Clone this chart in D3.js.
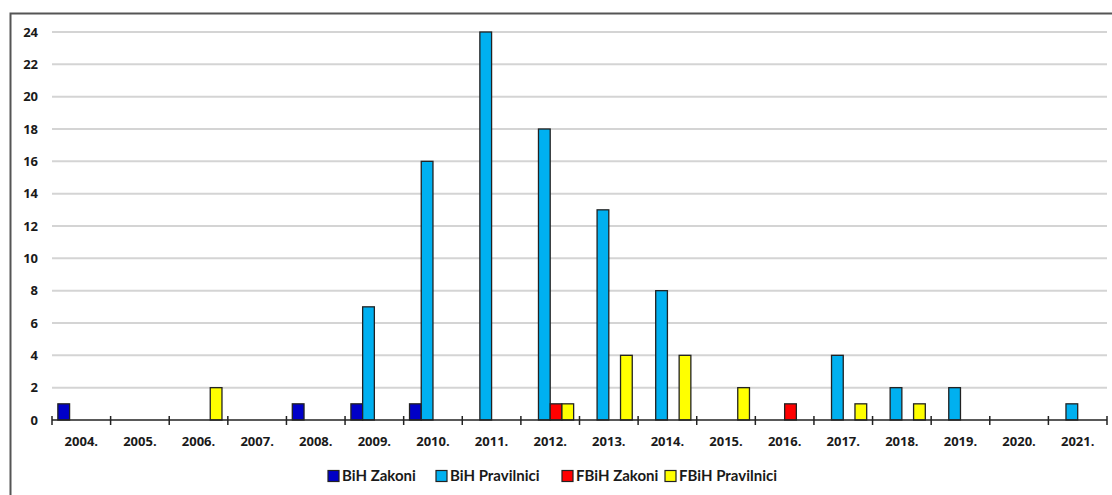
<!DOCTYPE html>
<html>
<head>
<meta charset="utf-8">
<script src="https://cdn.jsdelivr.net/npm/d3@7/dist/d3.min.js"></script>
<style>
  html, body { margin: 0; padding: 0; background: #fff; }
  svg { display: block; font-family: "Open Sans", "Noto Sans", sans-serif; }
</style>
</head>
<body>
<svg id="chart" width="1112" height="495"></svg>
<script>
// Years on the category axis
const years = ["2004.", "2005.", "2006.", "2007.", "2008.", "2009.", "2010.", "2011.", "2012.",
               "2013.", "2014.", "2015.", "2016.", "2017.", "2018.", "2019.", "2020.", "2021."];

// Series names and their counts per year
const seriesNames = ["BiH Zakoni", "BiH Pravilnici", "FBiH Zakoni", "FBiH Pravilnici"];
const bihZakoni       = [1, 0, 0, 0, 1, 1, 1, 0, 0, 0, 0, 0, 0, 0, 0, 0, 0, 0];
const bihPravilnici   = [0, 0, 0, 0, 0, 7, 16, 24, 18, 13, 8, 0, 0, 4, 2, 2, 0, 1];
const fbihZakoni      = [0, 0, 0, 0, 0, 0, 0, 0, 1, 0, 0, 0, 1, 0, 0, 0, 0, 0];
const fbihPravilnici  = [0, 0, 2, 0, 0, 0, 0, 0, 1, 4, 4, 2, 0, 1, 1, 0, 0, 0];
const seriesColors = ["#0000c8", "#00b0f0", "#ff0000", "#ffff00"];

// Y axis ticks
const yTicks = [0, 2, 4, 6, 8, 10, 12, 14, 16, 18, 20, 22, 24];

const seriesValues = [bihZakoni, bihPravilnici, fbihZakoni, fbihPravilnici];

const svg = d3.select("#chart");

// Outer frame (left and top edges show; the rest runs off the canvas)
svg.append("rect")
  .attr("x", 10.5).attr("y", 13.5)
  .attr("width", 1120).attr("height", 500)
  .attr("fill", "#fff")
  .attr("stroke", "#555").attr("stroke-width", 2);

const plotLeft = 52, plotRight = 1107, plotTop = 32, plotBottom = 420;

const x = d3.scaleBand().domain(years).range([plotLeft, plotRight]).padding(0);
const bw = x.bandwidth();
const xs = d3.scaleBand().domain(seriesNames).range([bw * 0.1, bw * 0.9]).padding(0);
const y = d3.scaleLinear().domain([0, 24]).range([plotBottom, plotTop]);

// Horizontal gridlines
svg.append("g")
  .selectAll("line")
  .data(yTicks.filter(d => d > 0))
  .join("line")
  .attr("x1", plotLeft).attr("x2", plotRight)
  .attr("y1", d => y(d)).attr("y2", d => y(d))
  .attr("stroke", "#d4d4d4").attr("stroke-width", 2);

// Y tick labels
svg.append("g")
  .selectAll("text")
  .data(yTicks)
  .join("text")
  .attr("x", 38)
  .attr("y", d => y(d))
  .attr("dy", "0.35em")
  .attr("text-anchor", "end")
  .attr("font-size", 13)
  .attr("font-weight", "bold")
  .attr("fill", "#1a1a1a")
  .text(d => d);

// Bars
const groups = svg.append("g")
  .selectAll("g")
  .data(years.map((yr, i) => ({ yr, vals: seriesValues.map((s, k) => ({ name: seriesNames[k], v: s[i], c: seriesColors[k] })) })))
  .join("g")
  .attr("transform", d => `translate(${x(d.yr)},0)`);

groups.selectAll("rect")
  .data(d => d.vals.filter(e => e.v > 0))
  .join("rect")
  .attr("x", e => xs(e.name))
  .attr("width", xs.bandwidth())
  .attr("y", e => y(e.v))
  .attr("height", e => y(0) - y(e.v))
  .attr("fill", e => e.c)
  .attr("stroke", "#222")
  .attr("stroke-width", 1.3);

// X axis with crossing tick marks at band boundaries
const xAxis = svg.append("g");
xAxis.append("line")
  .attr("x1", plotLeft).attr("x2", plotRight)
  .attr("y1", plotBottom).attr("y2", plotBottom)
  .attr("stroke", "#222").attr("stroke-width", 1.5);
xAxis.selectAll("line.tick")
  .data(years.map(yr => x(yr)).concat([plotRight]))
  .join("line")
  .attr("class", "tick")
  .attr("x1", d => d).attr("x2", d => d)
  .attr("y1", plotBottom - 4).attr("y2", plotBottom + 5)
  .attr("stroke", "#222").attr("stroke-width", 1.5);
xAxis.selectAll("text")
  .data(years)
  .join("text")
  .attr("x", d => x(d) + bw / 2)
  .attr("y", 441)
  .attr("dy", "0.35em")
  .attr("text-anchor", "middle")
  .attr("font-size", 13)
  .attr("font-weight", "bold")
  .attr("fill", "#1a1a1a")
  .text(d => d);

// Legend
const legendX = [328, 436, 562, 665];
const legend = svg.append("g")
  .selectAll("g")
  .data(seriesNames)
  .join("g")
  .attr("transform", (d, i) => `translate(${legendX[i]},476)`);
legend.append("rect")
  .attr("x", 0).attr("y", -5.5)
  .attr("width", 11).attr("height", 11)
  .attr("fill", (d, i) => seriesColors[i])
  .attr("stroke", "#222").attr("stroke-width", 1.2);
legend.append("text")
  .attr("x", 14).attr("y", 0)
  .attr("dy", "0.35em")
  .attr("font-family", "Lato, 'Open Sans', sans-serif")
  .attr("font-size", 15)
  .attr("font-weight", "bold")
  .attr("fill", "#1a1a1a")
  .text(d => d);
</script>
</body>
</html>
